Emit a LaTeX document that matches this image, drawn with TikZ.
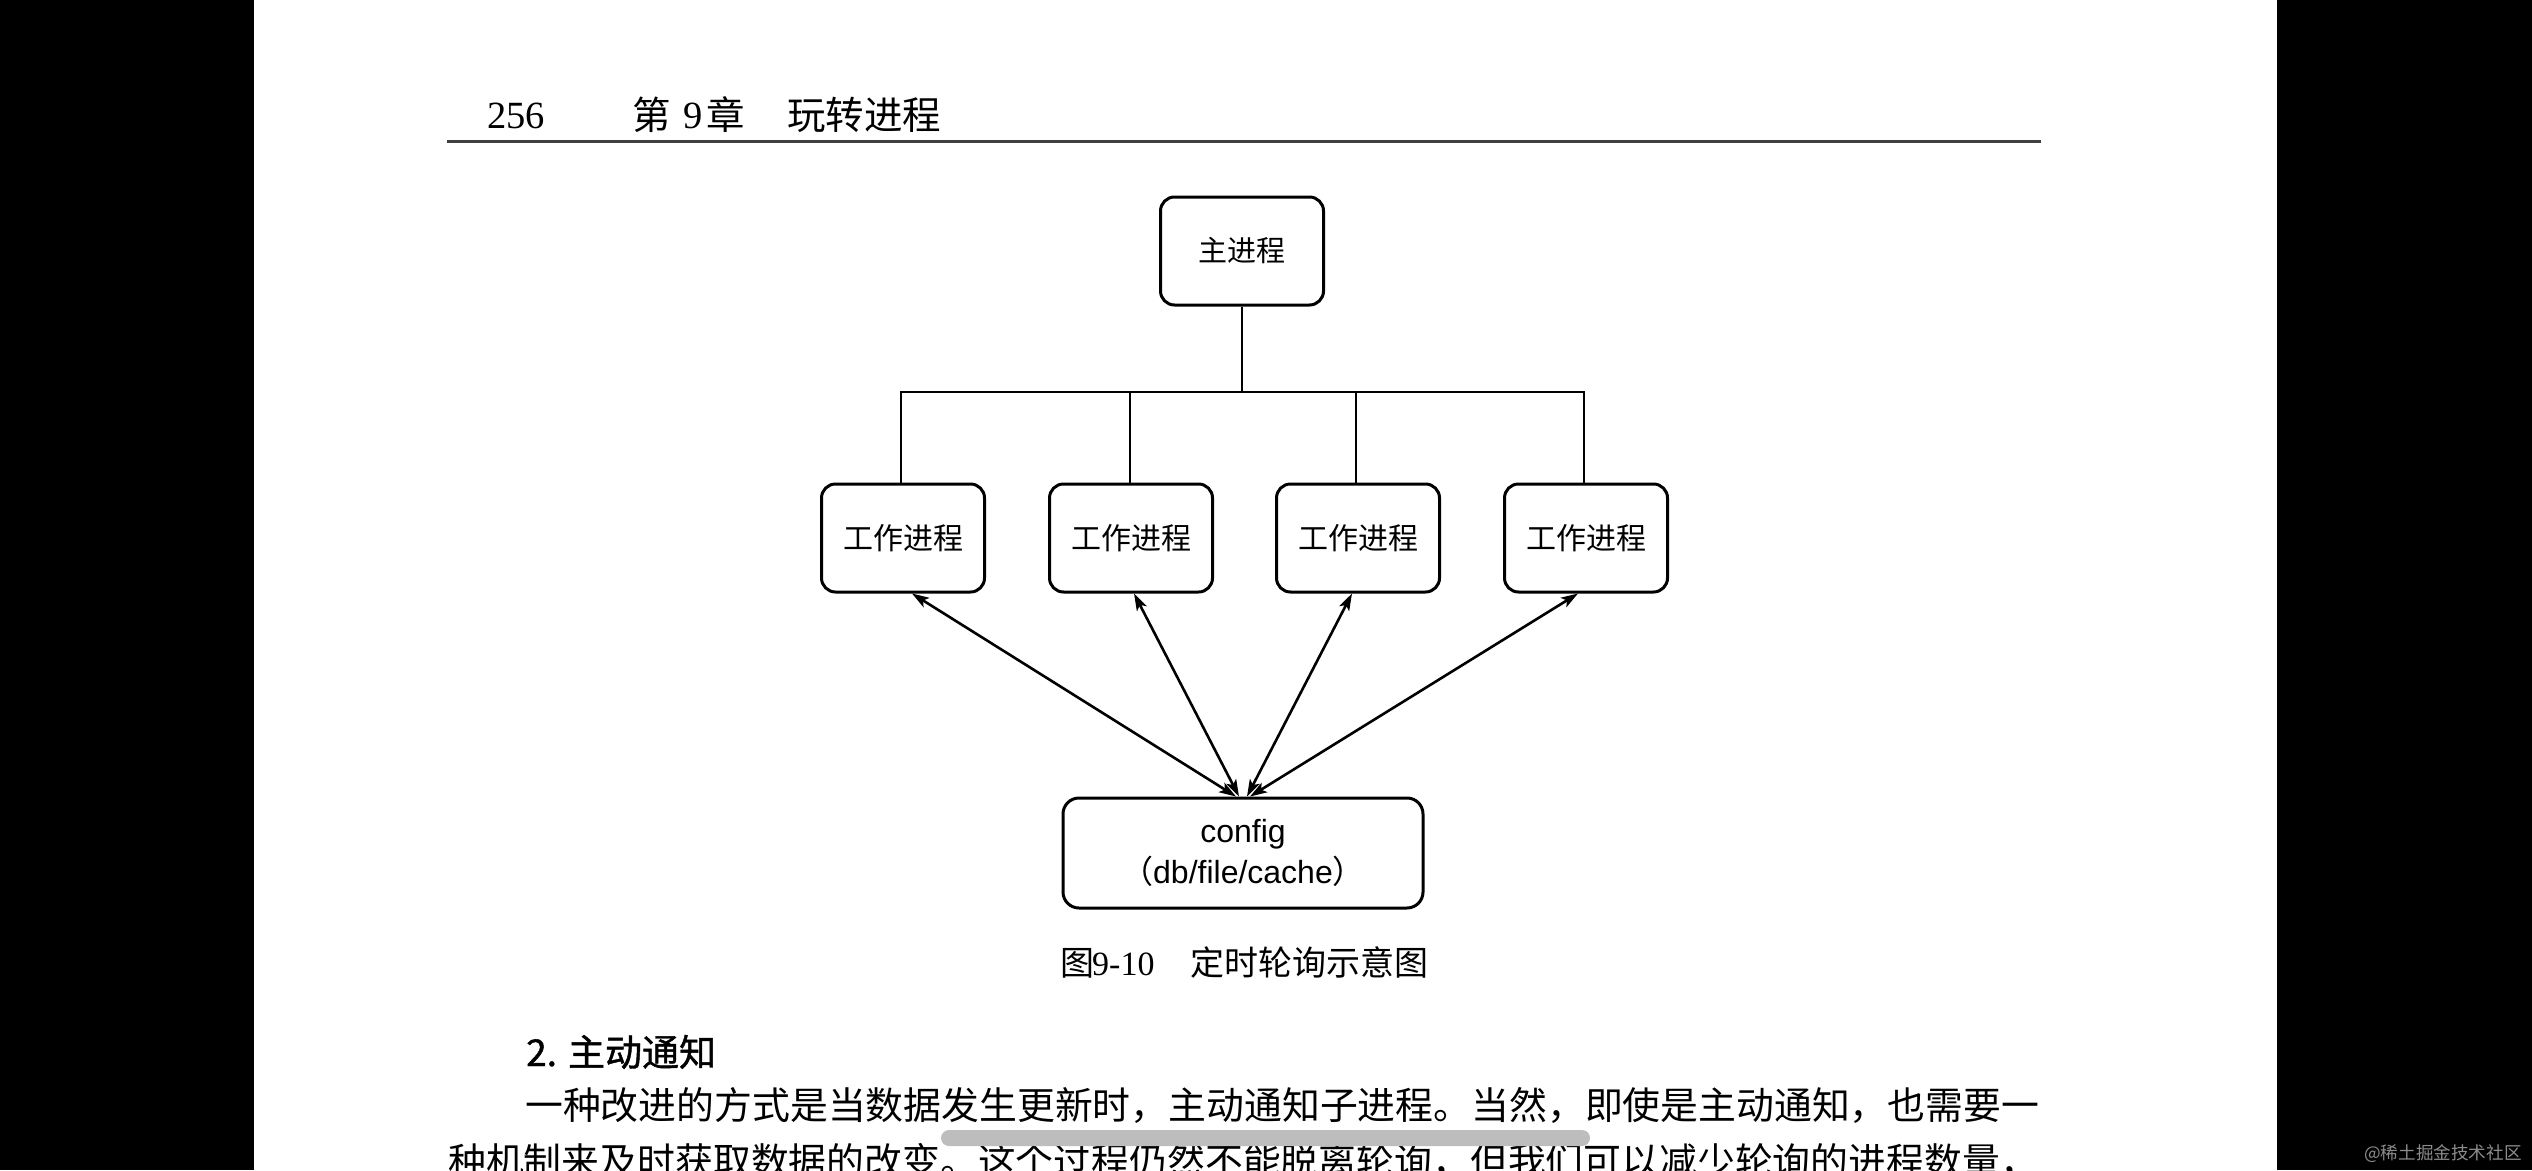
\documentclass[tikz,border=0pt]{standalone}
\usepackage{fontspec}
\setmainfont{Liberation Serif}
\newfontfamily\cjk{Noto Sans CJK SC}
\newfontfamily\cjkmed[FakeBold=1.2]{Noto Sans CJK SC}
\newfontfamily\arialf{Liberation Sans}
\usetikzlibrary{arrows.meta}
\newcommand{\fsz}[1]{\fontsize{#1}{#1}\selectfont}
\begin{document}
\begin{tikzpicture}[x=1pt,y=-1pt,
  procbox/.style={draw=black,line width=3pt,rounded corners=14pt,minimum width=163pt,minimum height=108pt,inner sep=0pt,align=center},
  conn/.style={line width=2.6pt,draw=black},
  dblarrow/.style={line width=2.6pt,draw=black,{Stealth[length=17pt,width=11pt,inset=4pt]}-{Stealth[length=17pt,width=11pt,inset=4pt]}},
  txt/.style={inner sep=0pt,anchor=base west}]
\useasboundingbox (0,0) rectangle (2532,1170);
\clip (0,0) rectangle (2532,1170);
% background
\fill[black] (0,0) rectangle (2532,1170);
\fill[white] (254,0) rectangle (2277,1170);
% header
\node[txt,font=\fsz{38.5}] (pnum) at (487,128) {256};
\node[txt,font=\cjk\fsz{38.5}] (hdi) at (632,129) {第};
\node[txt,font=\fsz{38.5}] (hnine) at (683,128) {9};
\node[txt,font=\cjk\fsz{38.5}] (hzhang) at (706,129) {章};
\node[txt,font=\cjk\fsz{38.5}] (htitle) at (787,129) {玩转进程};
\coordinate (ruleL) at (447,141);
\coordinate (ruleR) at (2041,141);
\draw[line width=3pt,draw=black!75] (ruleL) -- (ruleR);
% main process
\node[procbox,font=\cjk\fsz{29}] (main) at (1242,251) {主进程};
% workers
\node[procbox,font=\cjk\fsz{30}] (w1) at (903,538) {工作进程};
\node[procbox,font=\cjk\fsz{30}] (w2) at (1131,538) {工作进程};
\node[procbox,font=\cjk\fsz{30}] (w3) at (1358,538) {工作进程};
\node[procbox,font=\cjk\fsz{30}] (w4) at (1586,538) {工作进程};
% bus
\coordinate (busL) at (901,392);
\coordinate (busR) at (1584,392);
\draw[conn] ([xshift=-1.3pt]busL) -- ([xshift=1.3pt]busR);
\draw[conn] (main.south) -- (main.south |- busL);
\draw[conn] ([xshift=-2pt]w1.north |- busL) -- ([xshift=-2pt]w1.north);
\draw[conn] ([xshift=-1pt]w2.north |- busL) -- ([xshift=-1pt]w2.north);
\draw[conn] ([xshift=-2pt]w3.north |- busL) -- ([xshift=-2pt]w3.north);
\draw[conn] ([xshift=-2pt]w4.north |- busL) -- ([xshift=-2pt]w4.north);
% config
\node[draw=black,line width=3pt,rounded corners=16pt,minimum width=360pt,minimum height=110pt,inner sep=0pt,align=center,font=\arialf\fsz{32}] (cfg) at (1243,853)
  {config\\[6pt]{\cjk （}db/file/cache{\cjk ）}};
% arrows
\draw[dblarrow] ([xshift=9pt]w1.south) -- ([xshift=-7pt]cfg.north);
\draw[dblarrow] ([xshift=3pt]w2.south) -- ([xshift=-4pt]cfg.north);
\draw[dblarrow] ([xshift=-6pt]w3.south) -- ([xshift=4pt]cfg.north);
\draw[dblarrow] ([xshift=-8pt]w4.south) -- ([xshift=7pt]cfg.north);
% caption
\node[txt,font=\cjk\fsz{34}] (capa) at (1060,975) {图};
\node[txt,font=\fsz{34}] (capb) at (1092,975) {9-10};
\node[txt,font=\cjk\fsz{34}] (capc) at (1190,975) {定时轮询示意图};
% section heading
\node[txt,font=\cjkmed\fsz{37}] (sec) at (526,1066) {2. 主动通知};
% body text
\node[txt,font=\cjk\fsz{37.85}] (body1) at (525,1119) {一种改进的方式是当数据发生更新时，主动通知子进程。当然，即使是主动通知，也需要一};
\node[txt,font=\cjk\fsz{37.85}] (body2) at (448,1175) {种机制来及时获取数据的改变。这个过程仍然不能脱离轮询，但我们可以减少轮询的进程数量，};
% scrollbar pill
\fill[fill=black!26,rounded corners=8pt] (941,1130) rectangle (1590,1146);
% watermark
\node[txt,font=\cjk\fsz{17.6},text=black!45] (wm) at (2364,1159) {@稀土掘金技术社区};
\end{tikzpicture}
\end{document}
